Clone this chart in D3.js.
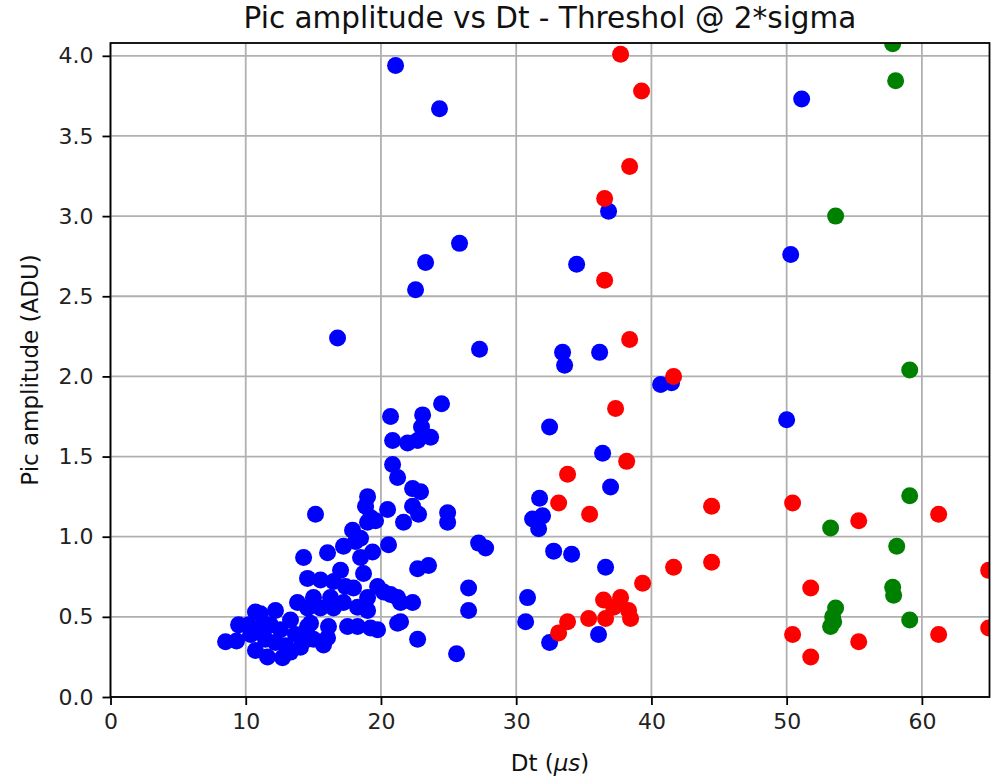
<!DOCTYPE html>
<html>
<head>
<meta charset="utf-8">
<script src="https://cdn.jsdelivr.net/npm/d3@7"></script>
<style>
  html, body { margin: 0; padding: 0; background: #fff; }
  svg { display: block; font-family: "DejaVu Sans", sans-serif; }
</style>
</head>
<body>
<svg id="chart" width="996" height="778"></svg>
<script>
// Pulse amplitude (ADU) against time difference Dt (µs), three event groups
const blueDt = [
  21.08, 24.33, 25.81, 23.30, 22.56, 16.79, 27.29, 36.83, 34.47, 33.43, 33.58, 36.17, 40.68, 41.49,
  51.11, 50.30, 50.00, 24.48, 20.71, 23.08, 23.00, 20.86, 21.97, 22.71, 23.67, 32.47, 36.39, 36.98,
  31.73, 31.21, 31.95, 31.66, 32.77, 34.10, 36.61, 30.84, 30.70, 32.47, 36.09, 20.86, 21.23, 22.34,
  22.93, 19.01, 18.86, 19.23, 20.49, 21.67, 22.34, 22.78, 20.56, 22.71, 23.52, 24.93, 24.93, 27.22,
  27.74, 26.48, 26.48, 22.34, 21.45, 21.45, 22.71, 25.59, 15.16, 17.90, 18.49, 17.23, 18.12, 16.05,
  14.28, 19.38, 17.01, 18.49, 18.71, 19.75, 20.19, 20.71, 21.23, 19.01, 19.60, 14.57, 15.53, 16.49,
  17.38, 17.97, 19.01, 16.27, 15.01, 17.23, 18.27, 16.49, 15.53, 14.57, 19.01, 14.57, 16.12, 17.53,
  18.27, 19.23, 19.75, 16.05, 14.57, 15.75, 21.23, 8.51, 9.47, 9.32, 11.09, 12.20, 11.61, 12.72,
  13.83, 14.79, 15.01, 10.36, 10.72, 11.46, 11.83, 12.57, 12.94, 13.31, 13.68, 14.05, 10.21, 11.09,
  12.20, 13.31, 10.72
];
const blueAmp = [
  3.94, 3.67, 2.83, 2.71, 2.54, 2.24, 2.17, 3.03, 2.70, 2.15, 2.07, 2.15, 1.95, 1.96,
  3.73, 2.76, 1.73, 1.83, 1.75, 1.76, 1.685, 1.60, 1.585, 1.60, 1.62, 1.685, 1.52, 1.31,
  1.24, 1.11, 1.13, 1.05, 0.91, 0.89, 0.81, 0.62, 0.47, 0.34, 0.39, 1.45, 1.37, 1.30,
  1.28, 1.25, 1.19, 1.12, 1.17, 1.09, 1.19, 1.14, 0.95, 0.80, 0.82, 1.15, 1.09, 0.96,
  0.93, 0.68, 0.54, 0.59, 0.59, 0.47, 0.36, 0.27, 1.14, 1.04, 0.99, 0.94, 0.97, 0.90,
  0.87, 0.905, 0.79, 0.87, 0.77, 0.69, 0.655, 0.64, 0.62, 1.09, 1.10, 0.74, 0.73, 0.72,
  0.69, 0.68, 0.62, 0.62, 0.62, 0.59, 0.56, 0.555, 0.555, 0.555, 0.54, 0.44, 0.44, 0.44,
  0.44, 0.43, 0.42, 0.37, 0.36, 0.325, 0.46, 0.345, 0.45, 0.35, 0.52, 0.54, 0.25, 0.245,
  0.59, 0.46, 0.36, 0.39, 0.29, 0.36, 0.45, 0.42, 0.32, 0.48, 0.39, 0.31, 0.45, 0.43,
  0.34, 0.28, 0.53
];
const redDt = [
  37.72, 39.27, 38.39, 36.54, 36.54, 38.39, 41.64, 37.35, 38.17, 33.80, 33.14, 35.43,
  41.64, 39.35, 36.46, 37.72, 37.20, 38.31, 38.46, 35.36, 36.61, 33.80, 33.14, 44.45,
  44.45, 50.44, 55.33, 61.24, 51.78, 64.94, 50.44, 51.78, 55.33, 61.24, 64.94
];
const redAmp = [
  4.01, 3.78, 3.31, 3.11, 2.60, 2.23, 2.00, 1.80, 1.47, 1.39, 1.21, 1.14,
  0.81, 0.71, 0.605, 0.62, 0.56, 0.54, 0.49, 0.49, 0.49, 0.47, 0.40, 1.19,
  0.84, 1.21, 1.10, 1.14, 0.68, 0.79, 0.39, 0.25, 0.345, 0.39, 0.43
];
const greenDt = [
  57.84, 58.06, 53.62, 59.10, 59.10, 53.25, 58.14, 57.84, 57.91, 53.62, 53.40, 53.25, 53.48, 59.10
];
const greenAmp = [
  4.075, 3.845, 3.00, 2.04, 1.255, 1.055, 0.94, 0.685, 0.635, 0.555, 0.50, 0.44, 0.47, 0.48
];
const xTicks = [0, 10, 20, 30, 40, 50, 60];
const yTicks = [0.0, 0.5, 1.0, 1.5, 2.0, 2.5, 3.0, 3.5, 4.0];

const groups = [
  { dt: blueDt, amp: blueAmp, color: "#0000ff" },
  { dt: redDt, amp: redAmp, color: "#ff0000" },
  { dt: greenDt, amp: greenAmp, color: "#008000" }
];

const margin = { left: 110.5, right: 989.5, top: 43, bottom: 697 };
const svg = d3.select("#chart");

const x = d3.scaleLinear().domain([0, 65]).range([margin.left, margin.right]);
const y = d3.scaleLinear().domain([0, 4.08]).range([margin.bottom, margin.top]);

// grid
const grid = svg.append("g").attr("stroke", "#b0b0b0").attr("stroke-width", 1.8);
grid.selectAll(".vx").data(xTicks).join("line")
  .attr("x1", d => x(d)).attr("x2", d => x(d))
  .attr("y1", margin.top).attr("y2", margin.bottom);
grid.selectAll(".hy").data(yTicks).join("line")
  .attr("x1", margin.left).attr("x2", margin.right)
  .attr("y1", d => y(d)).attr("y2", d => y(d));

// points, clipped to the axes box
svg.append("clipPath").attr("id", "plotclip").append("rect")
  .attr("x", margin.left).attr("y", margin.top)
  .attr("width", margin.right - margin.left).attr("height", margin.bottom - margin.top);

const pts = svg.append("g").attr("clip-path", "url(#plotclip)");
groups.forEach(g => {
  pts.append("g").selectAll("circle")
    .data(g.dt.map((d, i) => [d, g.amp[i]]))
    .join("circle")
    .attr("cx", d => x(d[0]))
    .attr("cy", d => y(d[1]))
    .attr("r", 8.5)
    .attr("fill", g.color);
});

// axes
const xAxis = d3.axisBottom(x).tickValues(xTicks).tickFormat(d3.format("d")).tickSize(8).tickPadding(8);
const yAxis = d3.axisLeft(y).tickValues(yTicks).tickFormat(d3.format(".1f")).tickSize(8).tickPadding(9);

const gx = svg.append("g").attr("transform", `translate(0,${margin.bottom})`).call(xAxis);
const gy = svg.append("g").attr("transform", `translate(${margin.left},0)`).call(yAxis);
[gx, gy].forEach(g => {
  g.select(".domain").remove();
  g.selectAll(".tick line").attr("stroke", "#000").attr("stroke-width", 1.8);
  g.selectAll(".tick text").attr("fill", "#222").style("font-size", "22px")
    .style("font-family", "'DejaVu Sans', sans-serif");
});

// frame
svg.append("rect")
  .attr("x", margin.left).attr("y", margin.top)
  .attr("width", margin.right - margin.left).attr("height", margin.bottom - margin.top)
  .attr("fill", "none").attr("stroke", "#000").attr("stroke-width", 1.8);

// title and labels
svg.append("text")
  .attr("x", (margin.left + margin.right) / 2).attr("y", 28)
  .attr("text-anchor", "middle").style("font-size", "29.5px").attr("fill", "#111")
  .text("Pic amplitude vs Dt - Threshol @ 2*sigma");

const xl = svg.append("text")
  .attr("x", (margin.left + margin.right) / 2).attr("y", 771)
  .attr("text-anchor", "middle").style("font-size", "23px").attr("fill", "#111");
xl.append("tspan").text("Dt (");
xl.append("tspan").style("font-style", "italic").text("μs");
xl.append("tspan").text(")");

svg.append("text")
  .attr("transform", `translate(38,${(margin.top + margin.bottom) / 2}) rotate(-90)`)
  .attr("text-anchor", "middle").style("font-size", "23px").attr("fill", "#111")
  .text("Pic amplitude (ADU)");
</script>
</body>
</html>
